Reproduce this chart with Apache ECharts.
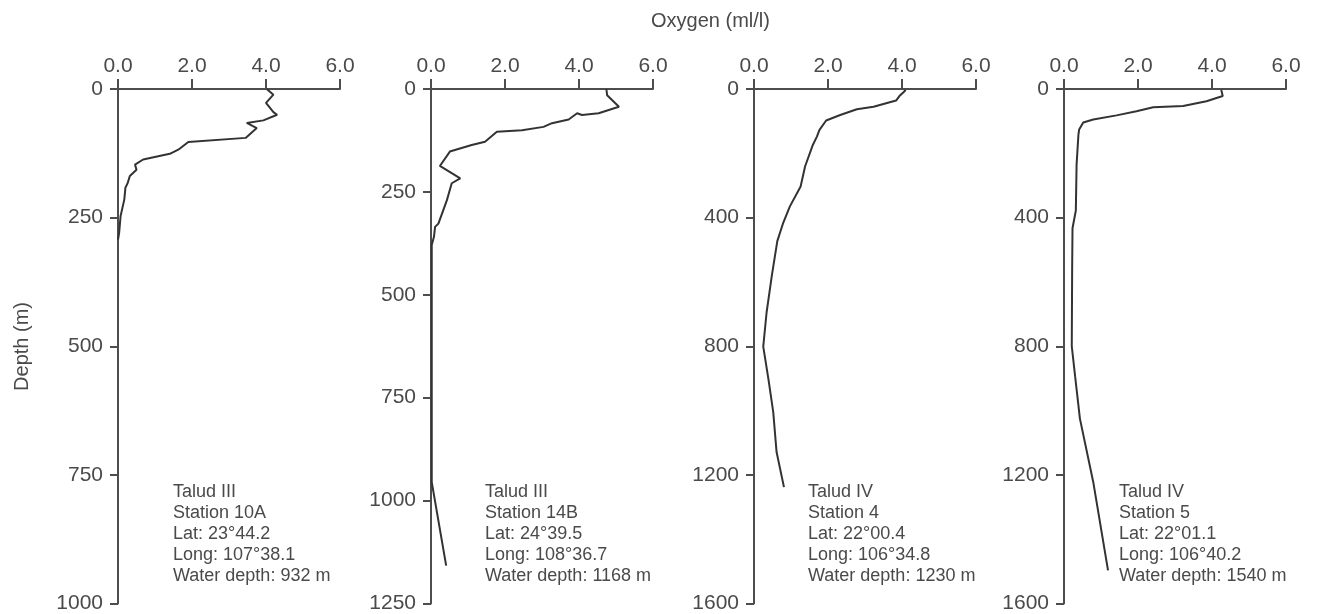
<!DOCTYPE html>
<html>
<head>
<meta charset="utf-8">
<script src="https://cdn.jsdelivr.net/npm/echarts@6/dist/echarts.min.js"></script>
<style>html,body{margin:0;padding:0;background:#fff}#c{width:1320px;height:614px}</style>
</head>
<body>
<div id="c"></div>
<script>
// Station 10A
var depth1 = [0, 11, 27, 45, 50, 61, 66, 76, 95, 103, 118, 126, 137, 147, 157, 169, 183, 192, 215, 247, 280, 293];
var oxy1   = [4.02, 4.2, 4.0, 4.2, 4.3, 3.93, 3.48, 3.75, 3.45, 1.9, 1.63, 1.4, 0.68, 0.46, 0.5, 0.32, 0.26, 0.2, 0.17, 0.07, 0.03, 0.0];
// Station 14B
var depth2 = [0, 15, 43, 59, 63, 59, 74, 83, 92, 100, 104, 128, 136, 152, 187, 217, 229, 270, 327, 335, 359, 379, 500, 700, 955, 1158];
var oxy2   = [4.74, 4.76, 5.08, 4.53, 4.08, 3.95, 3.72, 3.27, 3.04, 2.46, 1.78, 1.46, 1.1, 0.51, 0.24, 0.79, 0.56, 0.43, 0.2, 0.11, 0.08, 0.02, 0.02, 0.02, 0.02, 0.41];
// Station 4
var depth3 = [3, 10, 22, 36, 55, 63, 81, 98, 127, 148, 174, 241, 303, 365, 416, 473, 582, 695, 801, 902, 1005, 1129, 1238];
var oxy3   = [4.1, 4.04, 3.93, 3.84, 3.23, 2.78, 2.33, 1.95, 1.77, 1.70, 1.59, 1.38, 1.26, 0.97, 0.79, 0.63, 0.48, 0.34, 0.25, 0.39, 0.52, 0.61, 0.81];
// Station 5
var depth4 = [3, 22, 38, 53, 57, 69, 82, 95, 104, 126, 142, 236, 378, 433, 564, 800, 893, 1025, 1222, 1497];
var oxy4   = [4.25, 4.29, 3.85, 3.22, 2.41, 1.96, 1.42, 0.79, 0.52, 0.41, 0.39, 0.34, 0.32, 0.23, 0.22, 0.21, 0.30, 0.43, 0.79, 1.19];

var depthMax = [1000, 1250, 1600, 1600];
var depthStep = [250, 250, 400, 400];
var oxyTicks = ['0.0', '2.0', '4.0', '6.0'];
var stationInfo = [
  ['Talud III', 'Station 10A', 'Lat: 23°44.2', 'Long: 107°38.1', 'Water depth: 932 m'],
  ['Talud III', 'Station 14B', 'Lat: 24°39.5', 'Long: 108°36.7', 'Water depth: 1168 m'],
  ['Talud IV', 'Station 4', 'Lat: 22°00.4', 'Long: 106°34.8', 'Water depth: 1230 m'],
  ['Talud IV', 'Station 5', 'Lat: 22°01.1', 'Long: 106°40.2', 'Water depth: 1540 m']
];
var titleX = 'Oxygen (ml/l)';
var titleY = 'Depth (m)';

var depths = [depth1, depth2, depth3, depth4];
var oxys = [oxy1, oxy2, oxy3, oxy4];

var FONT = '"Liberation Sans", Arial, sans-serif';
var TXT = '#4a4a4a';
var AX = '#4d4d4d';
var lefts = [118, 431, 754, 1064];
var textLefts = [173, 485, 808, 1119];

var grids = [], xAxes = [], yAxes = [], series = [], graphics = [];
for (var i = 0; i < 4; i++) {
  grids.push({left: lefts[i], top: 89, width: 222, height: 515});
  xAxes.push({
    type: 'value', gridIndex: i, position: 'top', min: 0, max: 6, interval: 2,
    axisLine: {lineStyle: {color: AX, width: 2}},
    axisTick: {show: true, inside: false, length: 10, lineStyle: {color: AX, width: 2}},
    splitLine: {show: false},
    axisLabel: {color: TXT, fontSize: 21, fontFamily: FONT, margin: 12,
      formatter: function (v) { return oxyTicks[Math.round(v / 2)]; }}
  });
  yAxes.push({
    type: 'value', gridIndex: i, inverse: true, min: 0, max: depthMax[i], interval: depthStep[i],
    axisLine: {lineStyle: {color: AX, width: 2}},
    axisTick: {show: true, inside: false, length: 8, lineStyle: {color: AX, width: 2}},
    splitLine: {show: false},
    axisLabel: {color: TXT, fontSize: 21, fontFamily: FONT, margin: 15,
      formatter: function (v) { return String(v); }}
  });
  var pts = [];
  for (var k = 0; k < depths[i].length; k++) pts.push([oxys[i][k], depths[i][k]]);
  series.push({
    type: 'line', xAxisIndex: i, yAxisIndex: i, data: pts, showSymbol: false, symbol: 'none',
    lineStyle: {color: '#333', width: 2}, animation: false, silent: true
  });
  graphics.push({
    type: 'text', left: textLefts[i], top: 482,
    style: {text: stationInfo[i].join('\n'), fill: TXT, font: '18px ' + FONT, lineHeight: 20.8}
  });
}
graphics.push({type: 'text', left: 651, top: 11,
  style: {text: titleX, fill: TXT, font: '20px ' + FONT}});
graphics.push({type: 'text', left: 12, top: 302, rotation: Math.PI / 2,
  style: {text: titleY, fill: TXT, font: '20px ' + FONT}});

var chart = echarts.init(document.getElementById('c'), null, {renderer: 'canvas'});
chart.setOption({
  animation: false,
  backgroundColor: '#fff',
  grid: grids, xAxis: xAxes, yAxis: yAxes, series: series,
  graphic: graphics
});
</script>
</body>
</html>
